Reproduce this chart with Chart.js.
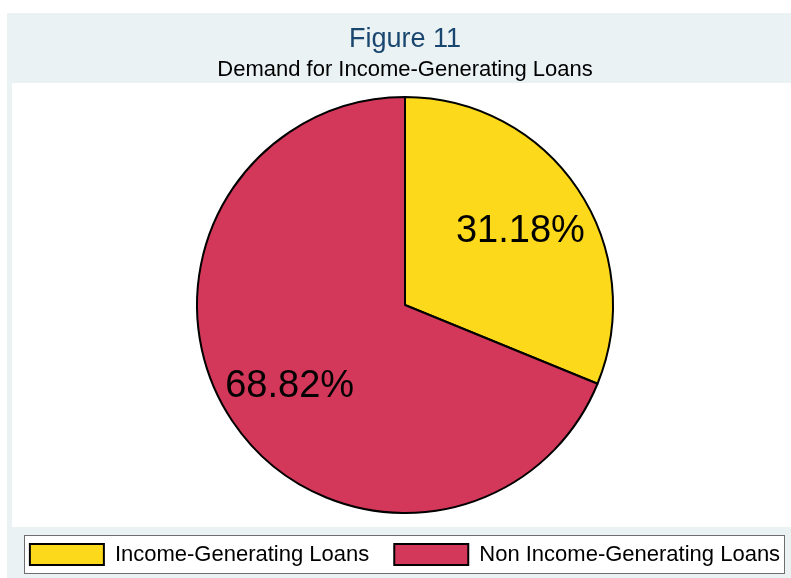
<!DOCTYPE html>
<html lang="en">
<head>
    <meta charset="UTF-8">
    <title>Figure 11 - Demand for Income-Generating Loans</title>
    <script src="https://cdn.jsdelivr.net/npm/chart.js"></script>
    <style>
        html, body { margin: 0; padding: 0; background: #ffffff; }
        canvas { display: block; }
    </style>
</head>
<body>
    <canvas id="pieChart" width="791" height="578"></canvas>

    <script>
        // Loan demand shares (percent)
        const categories = ['Income-Generating Loans', 'Non Income-Generating Loans'];
        const shares = [31.18, 68.82];
        const sliceColors = ['#fdd91b', '#d3375a'];

        const FONT = '"Liberation Sans", Arial, sans-serif';

        // Stata-like graph region: light bluish background, white plot area, framed legend
        const backdrop = {
            id: 'backdrop',
            beforeDraw(chart) {
                const ctx = chart.ctx;
                ctx.save();
                ctx.fillStyle = '#ffffff';
                ctx.fillRect(0, 0, chart.width, chart.height);
                ctx.fillStyle = '#eaf2f3';
                ctx.fillRect(7, 13, chart.width - 7, chart.height - 13);
                ctx.fillStyle = '#ffffff';
                ctx.fillRect(12, 83, chart.width - 12, 444);
                ctx.fillRect(24, 535, 761, 39);
                ctx.strokeStyle = '#6e6e6e';
                ctx.lineWidth = 1;
                ctx.strokeRect(24.5, 535.5, 760, 38);
                ctx.restore();
            }
        };

        // The plot region runs past the right edge, so the pie sits a bit right of the canvas middle
        const plotShift = {
            id: 'plotShift',
            afterLayout(chart) {
                const area = chart.chartArea;
                area.left = 19;
                area.width = area.right - area.left;
            }
        };

        // Percent labels placed along each slice's middle angle
        const sliceLabels = {
            id: 'sliceLabels',
            afterDatasetsDraw(chart) {
                const ctx = chart.ctx;
                const meta = chart.getDatasetMeta(0);
                ctx.save();
                ctx.font = '38px ' + FONT;
                ctx.fillStyle = '#000000';
                ctx.textAlign = 'center';
                ctx.textBaseline = 'middle';
                meta.data.forEach((arc, i) => {
                    const mid = (arc.startAngle + arc.endAngle) / 2;
                    const r = arc.outerRadius * 0.668;
                    const x = arc.x + Math.cos(mid) * r;
                    const y = arc.y + Math.sin(mid) * r + 4;
                    ctx.fillText(shares[i].toFixed(2) + '%', x, y);
                });
                ctx.restore();
            }
        };

        new Chart(document.getElementById('pieChart'), {
            type: 'pie',
            data: {
                labels: categories,
                datasets: [{
                    data: shares,
                    backgroundColor: sliceColors,
                    borderColor: '#000000',
                    borderWidth: 2,
                    hoverOffset: 0,
                    radius: 208
                }]
            },
            options: {
                responsive: false,
                devicePixelRatio: 1,
                animation: false,
                events: [],
                layout: { padding: { top: 0, bottom: 2.5, left: 0, right: -19 } },
                plugins: {
                    title: {
                        display: true,
                        text: 'Figure 11',
                        color: '#1a476f',
                        font: { family: FONT, size: 27, weight: 'normal', lineHeight: 1.2 },
                        padding: { top: 23, bottom: 0 }
                    },
                    subtitle: {
                        display: true,
                        text: 'Demand for Income-Generating Loans',
                        color: '#000000',
                        font: { family: FONT, size: 22, weight: 'normal', lineHeight: 1.2 },
                        padding: { top: 1.4, bottom: 8.3 }
                    },
                    legend: {
                        display: true,
                        position: 'bottom',
                        labels: {
                            color: '#000000',
                            font: { family: FONT, size: 22 },
                            boxWidth: 74,
                            boxHeight: 21,
                            padding: 25
                        }
                    },
                    tooltip: { enabled: false }
                }
            },
            plugins: [backdrop, plotShift, sliceLabels]
        });
    </script>
</body>
</html>
